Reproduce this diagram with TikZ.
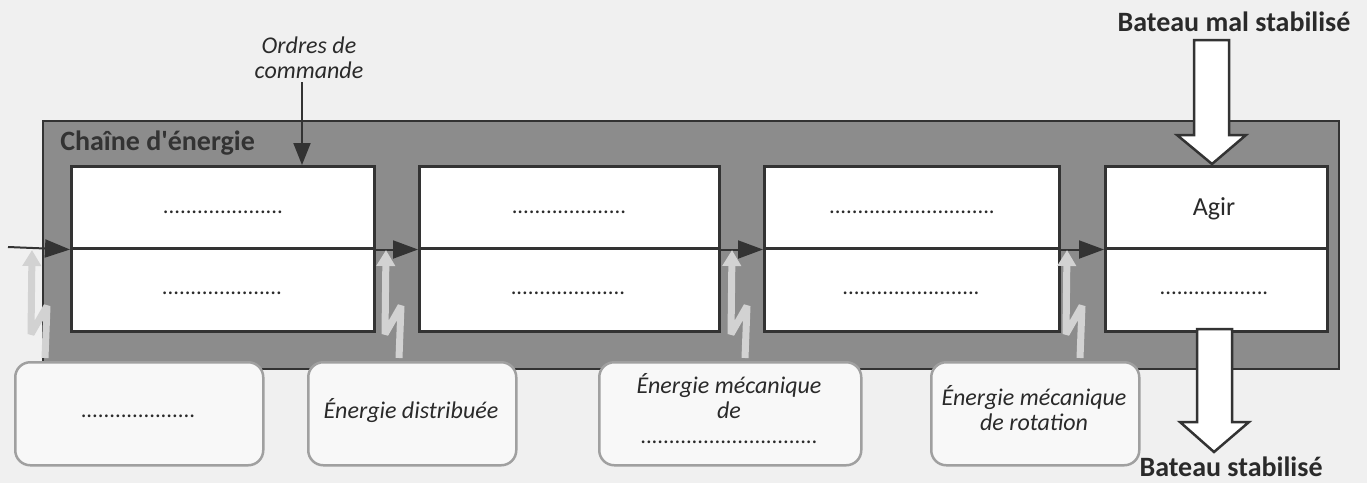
\documentclass[tikz,border=0pt]{standalone}
\usepackage{fontspec}
\setmainfont{Carlito}
\usetikzlibrary{arrows.meta}
\newlength\pxu \setlength\pxu{0.75pt}
\definecolor{bg}{HTML}{F0F0F0}
\definecolor{dark}{HTML}{333333}
\definecolor{txt}{HTML}{2A2A2A}
\definecolor{midgray}{HTML}{8C8C8C}
\definecolor{boltgray}{HTML}{D2D2D2}
\definecolor{roundfill}{HTML}{F8F8F8}
\definecolor{roundedge}{HTML}{A0A0A0}
\newcommand\dotfnt{\fontsize{17}{19}\selectfont}
\newcommand\labfnt{\fontsize{18}{18.75}\selectfont\itshape}
\newcommand\boldfnt{\fontsize{21}{25}\selectfont\bfseries}
\newcommand\straightquote{{\XeTeXglyph\XeTeXcharglyph"27\relax}}
\begin{document}
\begin{tikzpicture}[x=0.75pt,y=-0.75pt,
  chainbox/.style={draw=dark, line width=2\pxu, fill=midgray, inner sep=0, minimum width=1296\pxu, minimum height=248\pxu, anchor=north west},
  halfbox/.style={draw=dark, line width=2.5\pxu, fill=white, inner sep=0, anchor=north west},
  flow/.style={draw=dark, line width=2\pxu, -{Triangle[length=18.75pt,width=13.5pt]}},
  bolt/.style={draw=boltgray, line width=7\pxu, line join=miter, miter limit=3, -{Triangle[length=12pt,width=13.5pt]}},
  srcbox/.style={draw=roundedge, line width=2.5\pxu, fill=roundfill, rounded corners=15\pxu, inner sep=0, minimum height=103\pxu, anchor=north west},
  dotlab/.style={inner sep=0, anchor=base, text=txt, font=\dotfnt},
  itlab/.style={inner sep=0, anchor=base, text=txt, font=\labfnt, align=center},
  boldlab/.style={inner sep=0, anchor=base, text=txt, font=\boldfnt},
  bigarrow/.style={draw=dark, line width=2.5\pxu, fill=white, line join=miter},
]
\useasboundingbox (0,0) rectangle (1367,483);
\fill[bg] (0,0) rectangle (1367,483);

% outer chain
\node[chainbox] (chaine) at (42,120) {};
\node[inner sep=0, anchor=base west, text=dark, font=\fontsize{21}{24}\selectfont\bfseries] (chainelab) at (60,150) {Chaîne d\straightquote énergie};

% inner boxes
\node[halfbox, minimum width=303\pxu, minimum height=82\pxu] (b1t) at (70,165) {};
\node[halfbox, minimum width=303\pxu, minimum height=83\pxu] (b1b) at (70,247) {};
\node[halfbox, minimum width=300\pxu, minimum height=82\pxu] (b2t) at (418,165) {};
\node[halfbox, minimum width=300\pxu, minimum height=83\pxu] (b2b) at (418,247) {};
\node[halfbox, minimum width=295\pxu, minimum height=82\pxu] (b3t) at (763,165) {};
\node[halfbox, minimum width=295\pxu, minimum height=83\pxu] (b3b) at (763,247) {};
\node[halfbox, minimum width=222\pxu, minimum height=82\pxu] (b4t) at (1104,165) {};
\node[halfbox, minimum width=222\pxu, minimum height=83\pxu] (b4b) at (1104,247) {};

\node[dotlab] (t1t) at (223,213) {.....................};
\node[dotlab] (t1b) at (222,294) {.....................};
\node[dotlab] (t2t) at (569,213) {....................};
\node[dotlab] (t2b) at (568,294) {....................};
\node[dotlab] (t3t) at (912,213) {.............................};
\node[dotlab] (t3b) at (911,294) {........................};
\node[inner sep=0, anchor=base, text=txt, font=\fontsize{19.5}{24}\selectfont] (agir) at (1214,215) {Agir};
\node[dotlab] (t4b) at (1214,294) {...................};

% flow arrows
\coordinate (entree) at (8,247);
\draw[flow] (entree) -- (b1t.south west);
\draw[flow] (b1t.south east) -- (b2t.south west);
\draw[flow] (b2t.south east) -- (b3t.south west);
\draw[flow] (b3t.south east) -- (b4t.south west);

% command
\node[itlab] (ordres) at (309,78) {Ordres de\\commande};
\coordinate (oc) at (302,82);
\draw[flow, -{Triangle[length=16.5pt,width=12.75pt]}] (oc) -- (oc |- b1t.north);

% bolts
\foreach \X in {45,399,745,1080}{
  \draw[bolt] (\X,358) -- (\X+2,306) -- (\X-14,334) -- (\X-13,250);
}

% source boxes
\node[srcbox, minimum width=248\pxu] (sA) at (14,361) {};
\node[srcbox, minimum width=208\pxu] (sB) at (307,361) {};
\node[srcbox, minimum width=262\pxu] (sC) at (598,361) {};
\node[srcbox, minimum width=208\pxu] (sD) at (930,361) {};
\node[dotlab] (lA) at (138,417) {....................};
\node[itlab] (lB) at (411,418) {Énergie distribuée};
\node[itlab] (lC) at (729,443) {Énergie mécanique\\de\\{\upshape\fontsize{17}{18.75}\selectfont ...............................}};
\node[itlab] (lD) at (1034,430) {Énergie mécanique\\de rotation};

% big arrows
\draw[bigarrow] (1194,40) -- (1229,40) -- (1229,135) -- (1246,135) -- (1212,164) -- (1177,135) -- (1194,135) -- cycle;
\draw[bigarrow] (1197,329) -- (1232,329) -- (1232,422) -- (1249,422) -- (1214,452) -- (1180,422) -- (1197,422) -- cycle;
\node[boldlab] (mal) at (1234,31) {Bateau mal stabilisé};
\node[boldlab] (stab) at (1231,476) {Bateau stabilisé};
\end{tikzpicture}
\end{document}
